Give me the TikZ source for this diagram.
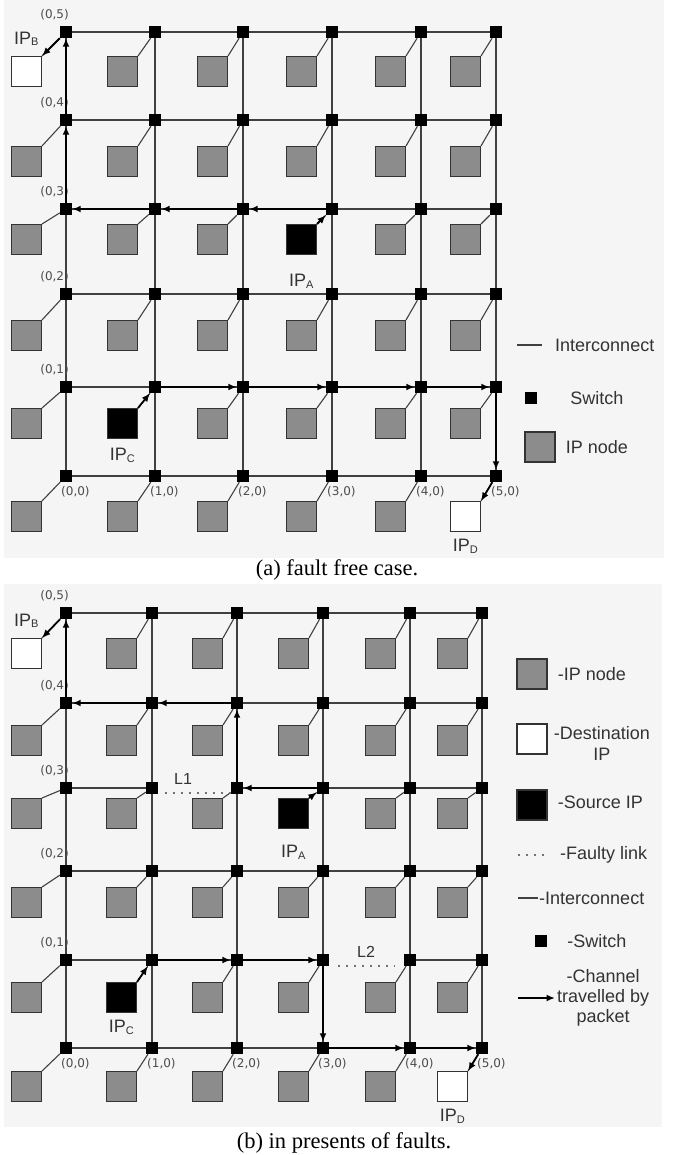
\documentclass[tikz,border=0pt]{standalone}
\usepackage{fontspec}
\setmainfont{Liberation Sans}
\newfontfamily\crdfont{DejaVu Sans}
\newfontfamily\capfont{Liberation Serif}
\usetikzlibrary{arrows.meta,positioning}
\tikzset{
  sw/.style={rectangle,fill=black,minimum size=12pt,inner sep=0pt},
  ipn/.style={rectangle,draw=black!80,fill=black!45,minimum size=30pt,inner sep=0pt,line width=1.3pt},
  % the four IPs a packet leaves from or arrives at
  ipk05/.style={fill=white}, ipk50/.style={fill=white},
  ipk33/.style={fill=black}, ipk11/.style={fill=black},
  wire/.style={draw=black!75,line width=1.5pt},
  tap/.style={draw=black!75,line width=1.1pt},
  pkt/.style={-{Latex[length=8.5pt,width=7pt]},line width=1.8pt,draw=black},
  fault/.style={draw=black!55,line width=1.6pt,dash pattern=on 1.6pt off 6.4pt},
  % broken links of (b), by left column and row
  gone13/.style={fault,shorten <=7pt,transform canvas={yshift=-5pt}},
  gone31/.style={fault,shorten <=9pt,shorten >=9pt,transform canvas={yshift=-6pt}},
  crd/.style={font=\crdfont\fontsize{12}{12}\selectfont,text=black!70,inner sep=0pt},
  iplb/.style={font=\fontsize{18}{18}\selectfont,text=black!80,inner sep=0pt},
  lgd/.style={font=\fontsize{18}{21}\selectfont,text=black!80,inner sep=0pt},
  captxt/.style={font=\capfont\fontsize{22.5}{24}\selectfont,inner sep=0pt},
  bgbox/.style={fill=black!4,draw=none},
}
\newcommand{\ipname}[1]{IP\raisebox{-1.5pt}{\fontsize{11}{11}\selectfont #1}}

\begin{document}
\begin{tikzpicture}[x=1pt,y=-1pt]
\useasboundingbox (0,0) rectangle (677,1155);
\fill[bgbox] (4,0) rectangle (664,558);
\fill[bgbox] (4,584) rectangle (662,1127);

% (a) fault free
\begin{scope}
  \foreach \i/\x/\ix in {0/66/42,1/155/138,2/243/228,3/332/317,4/421/406,5/496/481}
    \foreach \j/\y/\iy in {0/476/501,1/387/408,2/294/320,3/209/224,4/120/146,5/32/56}{
      \node[sw] (a\i\j) at (\x,\y) {};
      \node[ipn,ipk\i\j/.try,anchor=north east] (ipa\i\j) at (\ix,\iy) {};
      \draw[tap] (ipa\i\j.north east) -- (a\i\j);
    }
  \foreach \i/\k in {0/1,1/2,2/3,3/4,4/5}
    \foreach \j in {0,...,5}{
      \draw[wire] (a\i\j) -- (a\k\j);
      \draw[wire] (a\j\i) -- (a\j\k);
    }
  \foreach \j in {1,...,5}
    \node[crd,anchor=south east] (cla0\j) at ([shift={(3,-12)}]a0\j.center) {(0,\j)};
  \foreach \i in {0,...,5}
    \node[crd,anchor=west] (cla\i0) at ([shift={(-5,16)}]a\i0.center) {(\i,0)};
  % A to B, C to D
  \draw[pkt] (ipa33.north east) -- (a33);
  \foreach \s/\t in {33/23,23/13,13/03,03/04,04/05} \draw[pkt] (a\s) -- (a\t);
  \draw[pkt] (a05) -- (ipa05.north east);
  \draw[pkt] (ipa11.north east) -- (a11);
  \foreach \s/\t in {11/21,21/31,31/41,41/51,51/50} \draw[pkt] (a\s) -- (a\t);
  \draw[pkt] (a50) -- (ipa50.north east);
  \node[iplb,above=10pt of ipa05] (nma-b) {\ipname{B}};
  \node[iplb,below=19pt of ipa33] (nma-a) {\ipname{A}};
  \node[iplb,below=9pt of ipa11] (nma-c) {\ipname{C}};
  \node[iplb,below=7pt of ipa50] (nma-d) {\ipname{D}};
  % key
  \coordinate (ka1) at (517,345); \coordinate (ka2) at (542,345);
  \draw[wire] (ka1) -- (ka2);
  \node[lgd,right=13pt of ka2] (ka3) {Interconnect};
  \node[sw] (ka4) at (531,398) {};
  \node[lgd,right=33pt of ka4] (ka5) {Switch};
  \node[ipn] (ka6) at (540,447) {};
  \node[lgd,right=10pt of ka6] (ka7) {IP node};
  \node[captxt] (capa) at (337,570) {(a) fault free case.};
\end{scope}

% (b) with links L1 and L2 broken
\begin{scope}
  \foreach \i/\x/\ix in {0/66/42,1/152/137,2/237/223,3/323/309,4/410/396,5/482/468}
    \foreach \j/\y/\iy in {0/1048/1071,1/960/982,2/871/887,3/788/798,4/703/725,5/613/638}{
      \node[sw] (b\i\j) at (\x,\y) {};
      \node[ipn,ipk\i\j/.try,anchor=north east] (ipb\i\j) at (\ix,\iy) {};
      \draw[tap] (ipb\i\j.north east) -- (b\i\j);
    }
  \foreach \i/\k in {0/1,1/2,2/3,3/4,4/5}
    \foreach \j in {0,...,5}{
      \draw[wire,gone\i\j/.try] (b\i\j) -- (b\k\j);
      \draw[wire] (b\j\i) -- (b\j\k);
    }
  \foreach \j in {1,...,5}
    \node[crd,anchor=south east] (clb0\j) at ([shift={(3,-12)}]b0\j.center) {(0,\j)};
  \foreach \i in {0,...,5}
    \node[crd,anchor=west] (clb\i0) at ([shift={(-5,16)}]b\i0.center) {(\i,0)};
  \node[lgd,font=\fontsize{16}{16}\selectfont] (lk1) at (183,779) {L1};
  \node[lgd,font=\fontsize{16}{16}\selectfont] (lk2) at (366,952) {L2};
  % detours round L1 and L2
  \draw[pkt] (ipb33.north east) -- (b33);
  \foreach \s/\t in {33/23,23/24,24/14,14/04,04/05} \draw[pkt] (b\s) -- (b\t);
  \draw[pkt] (b05) -- (ipb05.north east);
  \draw[pkt] (ipb11.north east) -- (b11);
  \foreach \s/\t in {11/21,21/31,31/30,30/40,40/50} \draw[pkt] (b\s) -- (b\t);
  \draw[pkt] (b50) -- (ipb50.north east);
  \node[iplb,above=10pt of ipb05] (nmb-b) {\ipname{B}};
  \node[iplb,below=16pt of ipb33] (nmb-a) {\ipname{A}};
  \node[iplb,below=7pt of ipb11] (nmb-c) {\ipname{C}};
  \node[iplb,below=7pt of ipb50] (nmb-d) {\ipname{D}};
  % key
  \node[ipn] (kb1) at (532,674) {};
  \node[lgd,right=10pt of kb1] (kb2) {-IP node};
  \node[ipn,fill=white] (kb3) at (532,739) {};
  \node[lgd,right=6pt of kb3,align=center,yshift=-4pt] (kb4) {-Destination\\IP};
  \node[ipn,fill=black] (kb5) at (532,805) {};
  \node[lgd,right=10pt of kb5,yshift=3pt] (kb6) {-Source IP};
  \coordinate (kb7) at (518,855); \coordinate (kb8) at (548,855);
  \draw[fault] (kb7) -- (kb8);
  \node[lgd,right=12pt of kb8] (kb9) {-Faulty link};
  \coordinate (kb10) at (518,898); \coordinate (kb11) at (538,898);
  \draw[wire] (kb10) -- (kb11);
  \node[lgd,right=1pt of kb11] (kb12) {-Interconnect};
  \node[sw] (kb13) at (541,941) {};
  \node[lgd,right=20pt of kb13] (kb14) {-Switch};
  \coordinate (kb15) at (518,998); \coordinate (kb16) at (555,998);
  \draw[pkt] (kb15) -- (kb16);
  \node[lgd,right=2pt of kb16,align=center,font=\fontsize{18}{20}\selectfont] (kb17) {-Channel\\travelled by\\packet};
  \node[captxt] (capb) at (344,1143) {(b) in presents of faults.};
\end{scope}
\end{tikzpicture}
\end{document}
